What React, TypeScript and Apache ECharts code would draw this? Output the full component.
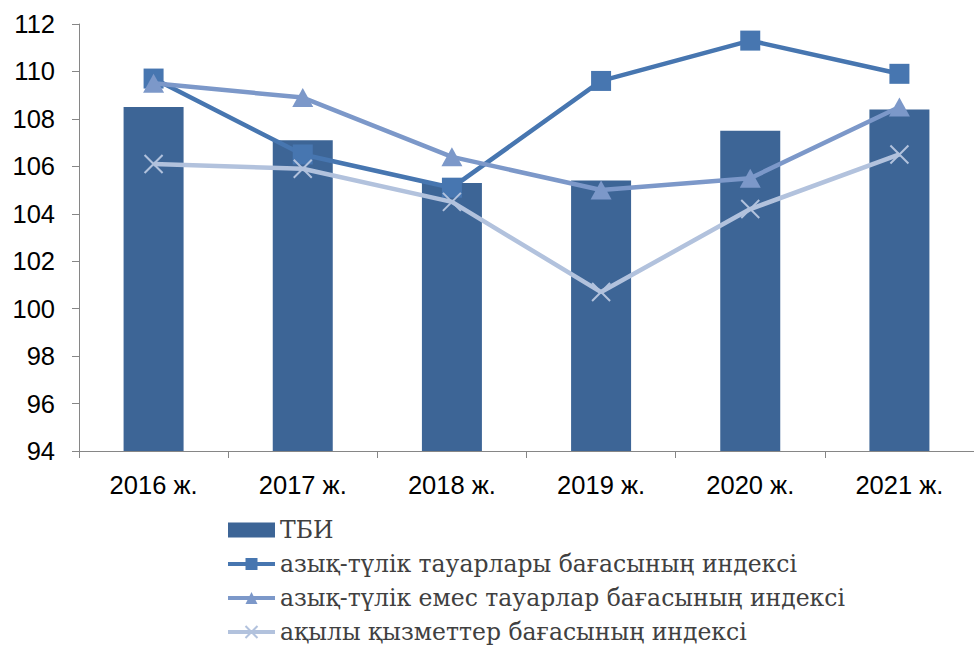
import React, { useEffect, useRef } from "react";
import * as echarts from "echarts";

const categories = ["2016 ж.", "2017 ж.", "2018 ж.", "2019 ж.", "2020 ж.", "2021 ж."];
const cpi = [108.5, 107.1, 105.3, 105.4, 107.5, 108.4];
const food = [109.7, 106.5, 105.1, 109.6, 111.3, 109.9];
const nonFood = [109.5, 108.9, 106.4, 105.0, 105.5, 108.5];
const services = [106.1, 105.9, 104.5, 100.7, 104.2, 106.5];

const names = [
  "ТБИ",
  "азық-түлік тауарлары бағасының индексі",
  "азық-түлік емес тауарлар бағасының индексі",
  "ақылы қызметтер бағасының индексі",
];

const C_BAR = "#3D6596";
const C_FOOD = "#4776B0";
const C_NON = "#7C98C9";
const C_SERV = "#B2C2DD";

export default function App() {
  const ref = useRef<HTMLDivElement>(null);
  useEffect(() => {
    if (!ref.current) return;
    const chart = echarts.init(ref.current, undefined, { renderer: "svg" });
    const axisFont = { fontFamily: "Liberation Sans, Arial, sans-serif", fontSize: 25.5, color: "#000" };
    chart.setOption({
      animation: false,
      backgroundColor: "#fff",
      grid: { left: 79, top: 24, width: 907, height: 427, containLabel: false },
      legend: {
        orient: "vertical",
        left: 226,
        top: 518,
        height: 200,
        padding: 0,
        itemWidth: 47,
        itemHeight: 15,
        itemGap: 10,
        lineStyle: { width: 4 },
        textStyle: { fontFamily: "DejaVu Serif, serif", fontSize: 23.5, color: "#404040", lineHeight: 24 },
        data: [
          { name: names[0], icon: "rect" },
          { name: names[1] },
          { name: names[2] },
          { name: names[3] },
        ],
      },
      xAxis: {
        type: "category",
        data: categories,
        boundaryGap: true,
        axisLine: { show: true, lineStyle: { color: "#868686", width: 1 } },
        axisTick: { show: true, length: 7, alignWithLabel: false, lineStyle: { color: "#868686" } },
        axisLabel: { ...axisFont, margin: 21 },
        splitLine: { show: false },
      },
      yAxis: {
        type: "value",
        min: 94,
        max: 112,
        interval: 2,
        axisLine: { show: true, lineStyle: { color: "#868686", width: 1 } },
        axisTick: { show: true, length: 7, lineStyle: { color: "#868686" } },
        axisLabel: { ...axisFont, margin: 24 },
        splitLine: { show: false },
      },
      series: [
        {
          name: names[0],
          type: "bar",
          data: cpi,
          barWidth: 60,
          itemStyle: { color: C_BAR },
          z: 1,
        },
        {
          name: names[1],
          type: "line",
          data: food,
          symbol: "rect",
          symbolSize: 20,
          lineStyle: { color: C_FOOD, width: 4.5 },
          itemStyle: { color: C_FOOD },
          z: 2,
        },
        {
          name: names[2],
          type: "line",
          data: nonFood,
          symbol: "triangle",
          symbolSize: [21, 19],
          lineStyle: { color: C_NON, width: 4.5 },
          itemStyle: { color: C_NON },
          z: 3,
        },
        {
          name: names[3],
          type: "line",
          data: services,
          symbol: "path://M0,0L10,10M10,0L0,10",
          symbolSize: 18,
          lineStyle: { color: C_SERV, width: 4.5 },
          itemStyle: { color: "none", borderColor: C_SERV, borderWidth: 2 },
          z: 4,
        },
      ],
    });
    return () => chart.dispose();
  }, []);
  return <div ref={ref} style={{ width: 974, height: 646, position: "absolute", left: 0, top: 0 }} />;
}
